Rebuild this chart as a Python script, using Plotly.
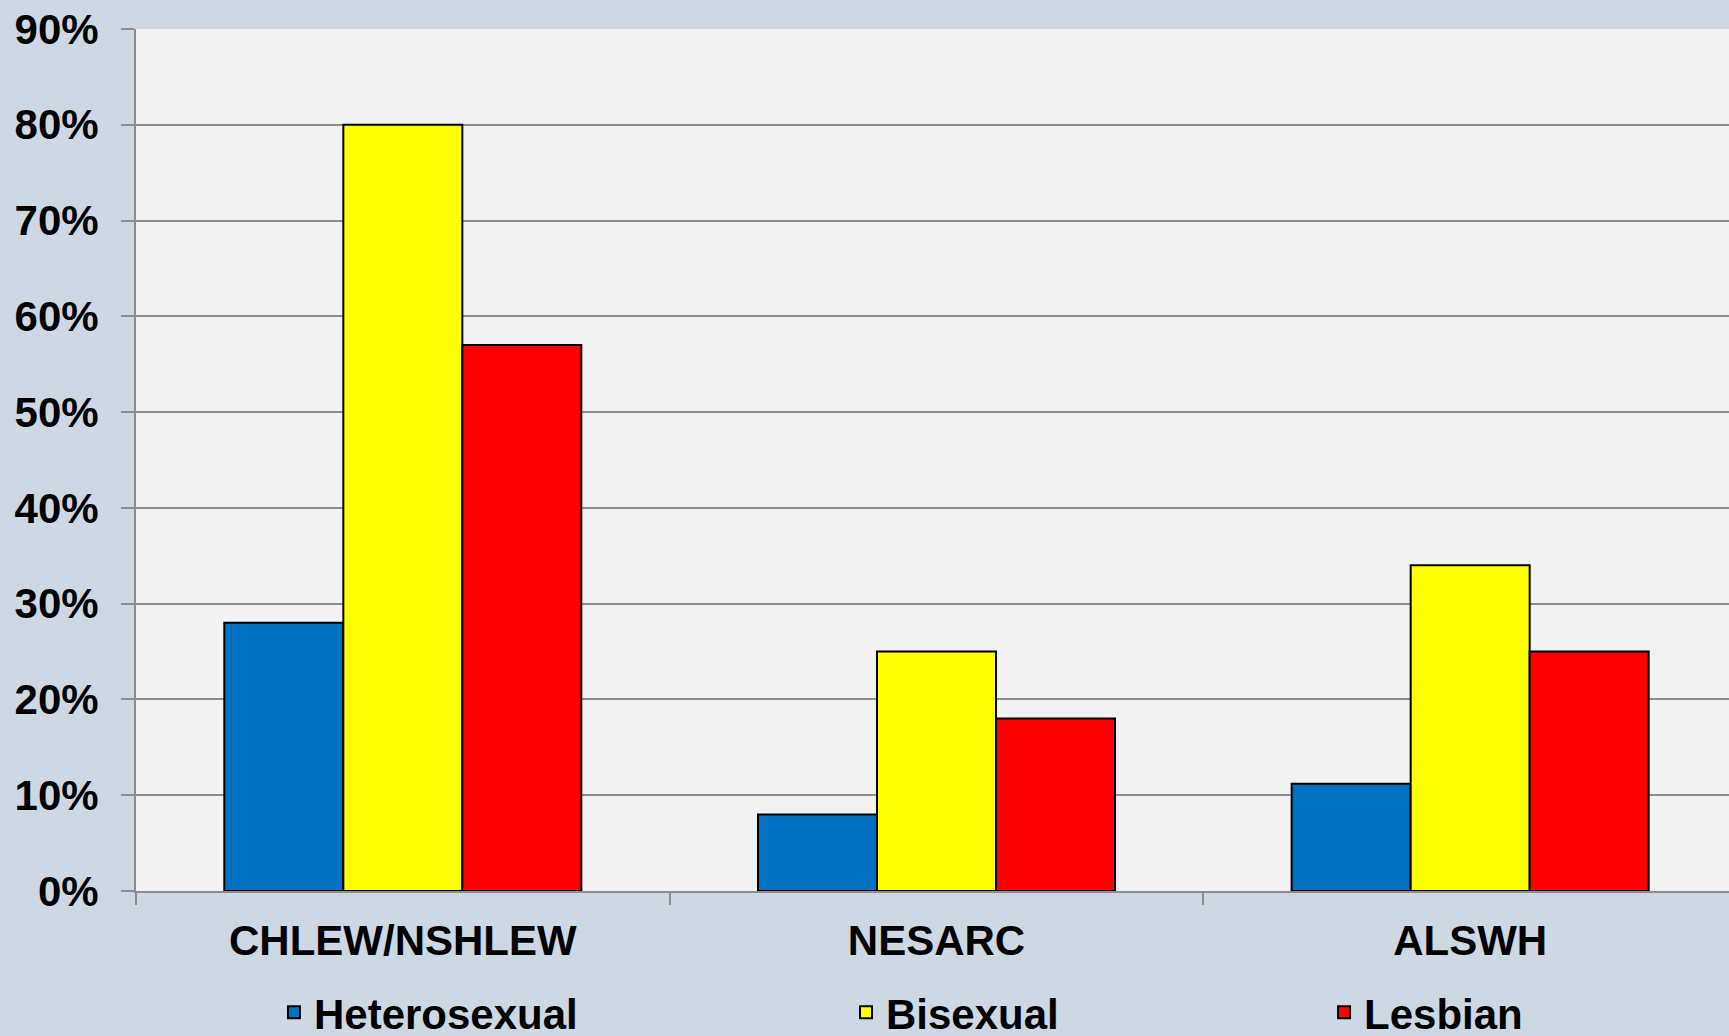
import plotly.graph_objects as go

categories = ["CHLEW/NSHLEW", "NESARC", "ALSWH"]
heterosexual = [28, 8, 11.2]
bisexual = [80, 25, 34]
lesbian = [57, 18, 25]
series_names = ["Heterosexual", "Bisexual", "Lesbian"]
series_colors = ["#0070c0", "#ffff00", "#ff0000"]
y_ticks = [0, 10, 20, 30, 40, 50, 60, 70, 80, 90]
y_tick_labels = [f"{v}%" for v in y_ticks]

FONT = "Liberation Sans, Arial, sans-serif"
W, H = 1729, 1036
ML, MR, MT, MB = 136, 0, 29, 145

fig = go.Figure()
legend_keys = ["legend", "legend2", "legend3"]
for name, vals, color, lg in zip(series_names, [heterosexual, bisexual, lesbian], series_colors, legend_keys):
    fig.add_trace(go.Bar(
        x=categories, y=vals, name=name, legend=lg,
        marker=dict(color=color, line=dict(color="black", width=2)),
    ))

legend_common = dict(
    orientation="h", xanchor="left", yanchor="top", y=-0.1015,
    bgcolor="rgba(0,0,0,0)", borderwidth=0,
    font=dict(family=FONT, size=42, color="black", weight="bold"),
)
fig.update_layout(
    width=W, height=H,
    showlegend=True,
    margin=dict(l=ML, r=MR, t=MT, b=MB, autoexpand=False),
    paper_bgcolor="#cdd8e3",
    plot_bgcolor="#f2f2f2",
    barmode="group", bargap=0.331, bargroupgap=0,
    font=dict(family=FONT, color="black"),
    legend=dict(x=0.0866, **legend_common),
    legend2=dict(x=0.4457, **legend_common),
    legend3=dict(x=0.7458, **legend_common),
    xaxis=dict(
        range=[-0.5, 2.485], showgrid=False, showline=True, linecolor="#8c8c8c", linewidth=2,
        ticks="outside", tickson="boundaries", ticklen=12, tickwidth=2, tickcolor="#8c8c8c",
        tickfont=dict(family=FONT, size=42, color="black", weight="bold"),
        zeroline=False, ticklabelstandoff=12,
    ),
    yaxis=dict(
        range=[0, 90], tickvals=y_ticks, ticktext=y_tick_labels,
        showgrid=True, gridcolor="#8c8c8c", gridwidth=2,
        showline=True, linecolor="#8c8c8c", linewidth=2,
        ticks="outside", ticklen=13, tickwidth=2, tickcolor="#8c8c8c",
        tickfont=dict(family=FONT, size=42, color="black", weight="bold"),
        zeroline=False, ticklabelstandoff=14,
    ),
)
fig.write_html(
    "out.html",
    config={"displayModeBar": False},
    post_script="document.body.style.margin='0';document.body.style.overflow='hidden';",
)
